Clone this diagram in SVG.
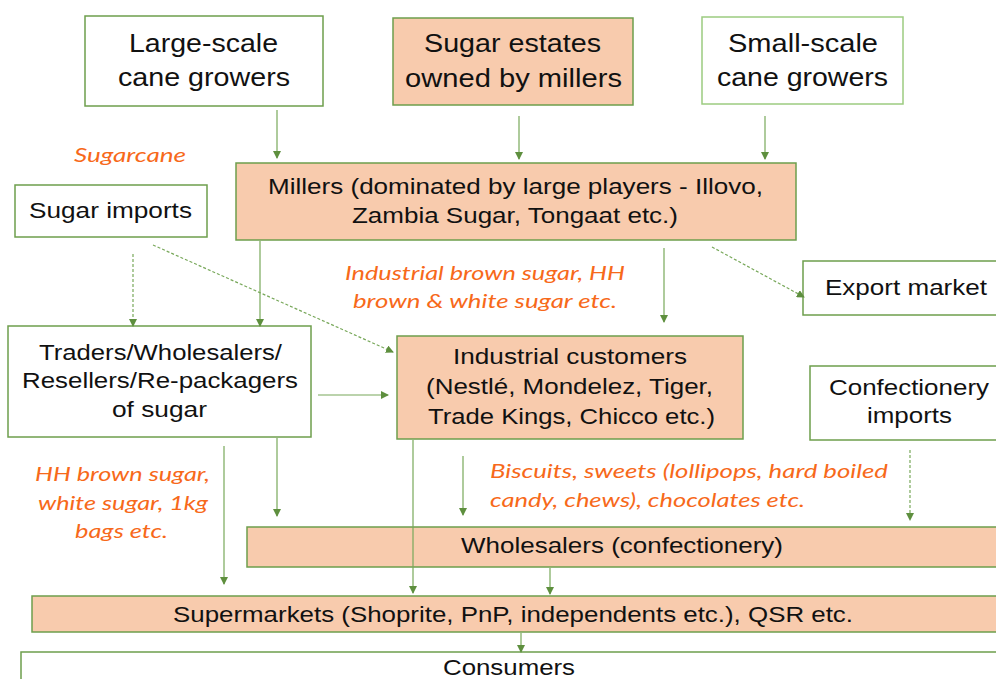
<svg xmlns="http://www.w3.org/2000/svg" width="996" height="679" viewBox="0 0 996 679">
<style>
.box{fill:#ffffff;stroke:#6E9E4C;stroke-width:1.5}
.lite{stroke:#9CCB80}
.peach{fill:#F8CBAD}
.t{font-family:"Liberation Sans",Arial,sans-serif;fill:#111111}
.big{font-size:25px}
.mid{font-size:22px}
.lab{font-family:Lato,"Open Sans",sans-serif;font-style:italic;font-size:20px;fill:#F7691A}
.ln{stroke:#78A85A;stroke-width:1.2;fill:none}
.dash{stroke-dasharray:3,2}
</style>
<defs>
<marker id="ah" viewBox="0 0 8 8" refX="7" refY="4" markerWidth="8" markerHeight="8" markerUnits="userSpaceOnUse" orient="auto">
<path d="M0,0 L8,4 L0,8 z" fill="#5E8F3E"/>
</marker>
</defs>
<rect width="996" height="679" fill="#ffffff"/>
<g id="large-growers">
<rect class="box" x="85" y="16" width="238" height="90"/>
<text class="t big" x="129" y="52" textLength="149" lengthAdjust="spacingAndGlyphs">Large-scale</text>
<text class="t big" x="118" y="86" textLength="172" lengthAdjust="spacingAndGlyphs">cane growers</text>
</g>
<g id="sugar-estates">
<rect class="box peach" x="393" y="18" width="240" height="87"/>
<text class="t big" x="424" y="52" textLength="177" lengthAdjust="spacingAndGlyphs">Sugar estates</text>
<text class="t big" x="405" y="87" textLength="217" lengthAdjust="spacingAndGlyphs">owned by millers</text>
</g>
<g id="small-growers">
<rect class="box lite" x="702" y="17" width="201" height="87"/>
<text class="t big" x="728" y="52" textLength="150" lengthAdjust="spacingAndGlyphs">Small-scale</text>
<text class="t big" x="717" y="86" textLength="171" lengthAdjust="spacingAndGlyphs">cane growers</text>
</g>
<g id="sugarcane-label">
<text class="lab" x="74" y="162" textLength="112" lengthAdjust="spacingAndGlyphs">Sugarcane</text>
</g>
<g id="sugar-imports">
<rect class="box" x="15" y="185" width="192" height="52"/>
<text class="t mid" x="29" y="218" textLength="163" lengthAdjust="spacingAndGlyphs">Sugar imports</text>
</g>
<g id="millers">
<rect class="box peach" x="236" y="163" width="560" height="77"/>
<text class="t mid" x="268" y="194" textLength="495" lengthAdjust="spacingAndGlyphs">Millers (dominated by large players - Illovo,</text>
<text class="t mid" x="352" y="223" textLength="326" lengthAdjust="spacingAndGlyphs">Zambia Sugar, Tongaat etc.)</text>
</g>
<g id="industrial-label">
<text class="lab" x="345" y="280" textLength="280" lengthAdjust="spacingAndGlyphs">Industrial brown sugar, HH</text>
<text class="lab" x="353" y="308" textLength="264" lengthAdjust="spacingAndGlyphs">brown &amp; white sugar etc.</text>
</g>
<g id="export-market">
<rect class="box" x="803" y="261" width="200" height="54"/>
<text class="t mid" x="825" y="295" textLength="162" lengthAdjust="spacingAndGlyphs">Export market</text>
</g>
<g id="traders">
<rect class="box" x="8" y="326" width="303" height="111"/>
<text class="t mid" x="39" y="360" textLength="243" lengthAdjust="spacingAndGlyphs">Traders/Wholesalers/</text>
<text class="t mid" x="22" y="388" textLength="276" lengthAdjust="spacingAndGlyphs">Resellers/Re-packagers</text>
<text class="t mid" x="112" y="417" textLength="95" lengthAdjust="spacingAndGlyphs">of sugar</text>
</g>
<g id="industrial-customers">
<rect class="box peach" x="397" y="336" width="346" height="103"/>
<text class="t mid" x="453" y="364" textLength="234" lengthAdjust="spacingAndGlyphs">Industrial customers</text>
<text class="t mid" x="426" y="394" textLength="287" lengthAdjust="spacingAndGlyphs">(Nestlé, Mondelez, Tiger,</text>
<text class="t mid" x="428" y="424" textLength="287" lengthAdjust="spacingAndGlyphs">Trade Kings, Chicco etc.)</text>
</g>
<g id="confectionery-imports">
<rect class="box" x="810" y="366" width="195" height="74"/>
<text class="t mid" x="829" y="395" textLength="160" lengthAdjust="spacingAndGlyphs">Confectionery</text>
<text class="t mid" x="867" y="423" textLength="85" lengthAdjust="spacingAndGlyphs">imports</text>
</g>
<g id="hh-label">
<text class="lab" x="35" y="481" textLength="175" lengthAdjust="spacingAndGlyphs">HH brown sugar,</text>
<text class="lab" x="38" y="510" textLength="170" lengthAdjust="spacingAndGlyphs">white sugar, 1kg</text>
<text class="lab" x="75" y="538" textLength="93" lengthAdjust="spacingAndGlyphs">bags etc.</text>
</g>
<g id="biscuits-label">
<text class="lab" x="490" y="478" textLength="398" lengthAdjust="spacingAndGlyphs">Biscuits, sweets (lollipops, hard boiled</text>
<text class="lab" x="490" y="507" textLength="315" lengthAdjust="spacingAndGlyphs">candy, chews), chocolates etc.</text>
</g>
<g id="wholesalers">
<rect class="box peach" x="247" y="527" width="760" height="40"/>
<text class="t mid" x="461" y="553" textLength="322" lengthAdjust="spacingAndGlyphs">Wholesalers (confectionery)</text>
</g>
<g id="supermarkets">
<rect class="box peach" x="32" y="596" width="975" height="36"/>
<text class="t mid" x="173" y="622" textLength="680" lengthAdjust="spacingAndGlyphs">Supermarkets (Shoprite, PnP, independents etc.), QSR etc.</text>
</g>
<g id="consumers">
<rect class="box" x="21" y="652" width="985" height="40"/>
<text class="t mid" x="443" y="675" textLength="132" lengthAdjust="spacingAndGlyphs">Consumers</text>
</g>
<g id="connectors">
<line class="ln" x1="277" y1="110" x2="277" y2="158" marker-end="url(#ah)"/>
<line class="ln" x1="519" y1="116" x2="519" y2="159" marker-end="url(#ah)"/>
<line class="ln" x1="765" y1="116" x2="765" y2="159" marker-end="url(#ah)"/>
<line class="ln dash" x1="133" y1="254" x2="133" y2="326" marker-end="url(#ah)"/>
<line class="ln" x1="260" y1="241" x2="260" y2="326" marker-end="url(#ah)"/>
<line class="ln dash" x1="153" y1="245" x2="393" y2="352" marker-end="url(#ah)"/>
<line class="ln" x1="664" y1="248" x2="664" y2="322" marker-end="url(#ah)"/>
<line class="ln dash" x1="712" y1="247" x2="804" y2="297" marker-end="url(#ah)"/>
<line class="ln" x1="318" y1="395" x2="388" y2="395" marker-end="url(#ah)"/>
<line class="ln" x1="224" y1="446" x2="224" y2="584" marker-end="url(#ah)"/>
<line class="ln" x1="277" y1="438" x2="277" y2="516" marker-end="url(#ah)"/>
<line class="ln" x1="413" y1="440" x2="413" y2="593" marker-end="url(#ah)"/>
<line class="ln" x1="463" y1="456" x2="463" y2="515" marker-end="url(#ah)"/>
<line class="ln dash" x1="910" y1="450" x2="910" y2="520" marker-end="url(#ah)"/>
<line class="ln" x1="550" y1="568" x2="550" y2="594" marker-end="url(#ah)"/>
<line class="ln" x1="521" y1="633" x2="521" y2="652" marker-end="url(#ah)"/>
</g>
</svg>
